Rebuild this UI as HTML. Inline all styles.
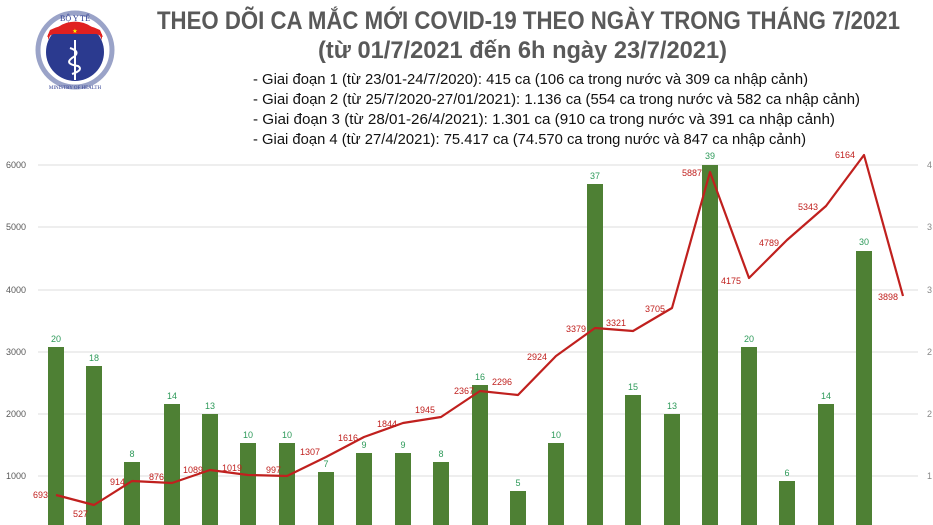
<!DOCTYPE html>
<html><head><meta charset="utf-8"><style>html,body{margin:0;padding:0;background:#fff;}svg{display:block}</style></head>
<body>
<svg width="933" height="525" viewBox="0 0 933 525" xmlns="http://www.w3.org/2000/svg" font-family="Liberation Sans, sans-serif">
<rect width="933" height="525" fill="#fff"/>
<!-- logo -->
<g>
<circle cx="75" cy="50" r="37" fill="none" stroke="#9aa3c8" stroke-width="5"/>
<circle cx="75" cy="52" r="29" fill="#2b3a8f"/>
<path d="M48 40 A29 29 0 0 1 102 40 L102 34 L48 34 Z" fill="#e02020"/>
<path d="M47 37 Q75 22 103 37 L100 30 Q75 18 50 30 Z" fill="#e02020"/>
<text x="75" y="33" font-size="6" fill="#ff0" text-anchor="middle">★</text>
<line x1="75" y1="40" x2="75" y2="80" stroke="#fff" stroke-width="2"/>
<path d="M70 48 Q82 52 72 58 Q64 64 78 66 Q84 70 72 74" stroke="#fff" stroke-width="2" fill="none"/>
<text x="75" y="21" font-size="8" fill="#2b3a8f" text-anchor="middle" font-family="Liberation Serif, serif">BỘ Y TẾ</text>
<text x="75" y="89" font-size="5" fill="#2b3a8f" text-anchor="middle" font-family="Liberation Serif, serif">MINISTRY OF HEALTH</text>
</g>
<!-- titles -->
<text x="157" y="29" font-size="25" font-weight="bold" fill="#595959" textLength="743" lengthAdjust="spacingAndGlyphs">THEO DÕI CA MẮC MỚI COVID-19 THEO NGÀY TRONG THÁNG 7/2021</text>
<text x="318" y="58" font-size="24" font-weight="bold" fill="#595959" textLength="409" lengthAdjust="spacingAndGlyphs">(từ 01/7/2021 đến 6h ngày 23/7/2021)</text>
<g font-size="15" fill="#111">
<text x="253" y="84" textLength="555" lengthAdjust="spacingAndGlyphs">- Giai đoạn 1 (từ 23/01-24/7/2020): 415 ca (106 ca trong nước và 309 ca nhập cảnh)</text>
<text x="253" y="104" textLength="607" lengthAdjust="spacingAndGlyphs">- Giai đoạn 2 (từ 25/7/2020-27/01/2021): 1.136 ca (554 ca trong nước và 582 ca nhập cảnh)</text>
<text x="253" y="124" textLength="582" lengthAdjust="spacingAndGlyphs">- Giai đoạn 3 (từ 28/01-26/4/2021): 1.301 ca (910 ca trong nước và 391 ca nhập cảnh)</text>
<text x="253" y="144" textLength="553" lengthAdjust="spacingAndGlyphs">- Giai đoạn 4 (từ 27/4/2021): 75.417 ca (74.570 ca trong nước và 847 ca nhập cảnh)</text>
</g>
<!-- grid -->
<g stroke="#dcdcdc" stroke-width="1">
<line x1="38" y1="165" x2="918" y2="165"/><line x1="38" y1="227" x2="918" y2="227"/>
<line x1="38" y1="290" x2="918" y2="290"/><line x1="38" y1="352" x2="918" y2="352"/>
<line x1="38" y1="414" x2="918" y2="414"/><line x1="38" y1="476" x2="918" y2="476"/>
</g>
<g font-size="9" fill="#595959">
<text x="6" y="168">6000</text><text x="6" y="230">5000</text><text x="6" y="293">4000</text>
<text x="6" y="355">3000</text><text x="6" y="417">2000</text><text x="6" y="479">1000</text>
</g>
<g font-size="9" fill="#888"><text x="927" y="168">4</text><text x="927" y="230">3</text><text x="927" y="293">3</text><text x="927" y="355">2</text><text x="927" y="417">2</text><text x="927" y="479">1</text></g>
<!-- bars -->
<g fill="#4e8034">
<rect x="48" y="347" width="16" height="178"/><rect x="86" y="366" width="16" height="159"/>
<rect x="124" y="462" width="16" height="63"/><rect x="164" y="404" width="16" height="121"/>
<rect x="202" y="414" width="16" height="111"/><rect x="240" y="443" width="16" height="82"/>
<rect x="279" y="443" width="16" height="82"/><rect x="318" y="472" width="16" height="53"/>
<rect x="356" y="453" width="16" height="72"/><rect x="395" y="453" width="16" height="72"/>
<rect x="433" y="462" width="16" height="63"/><rect x="472" y="385" width="16" height="140"/>
<rect x="510" y="491" width="16" height="34"/><rect x="548" y="443" width="16" height="82"/>
<rect x="587" y="184" width="16" height="341"/><rect x="625" y="395" width="16" height="130"/>
<rect x="664" y="414" width="16" height="111"/><rect x="702" y="165" width="16" height="360"/>
<rect x="741" y="347" width="16" height="178"/><rect x="779" y="481" width="16" height="44"/>
<rect x="818" y="404" width="16" height="121"/><rect x="856" y="251" width="16" height="274"/>
</g>
<g font-size="9" fill="#2e9a5a" text-anchor="middle">
<text x="56" y="342">20</text><text x="94" y="361">18</text><text x="132" y="457">8</text><text x="172" y="399">14</text>
<text x="210" y="409">13</text><text x="248" y="438">10</text><text x="287" y="438">10</text><text x="326" y="467">7</text>
<text x="364" y="448">9</text><text x="403" y="448">9</text><text x="441" y="457">8</text><text x="480" y="380">16</text>
<text x="518" y="486">5</text><text x="556" y="438">10</text><text x="595" y="179">37</text><text x="633" y="390">15</text>
<text x="672" y="409">13</text><text x="710" y="159">39</text><text x="749" y="342">20</text><text x="787" y="476">6</text>
<text x="826" y="399">14</text><text x="864" y="245">30</text>
</g>
<!-- line -->
<polyline fill="none" stroke="#c0201e" stroke-width="2.2" stroke-linejoin="round" points="56,495 94,505 132,481 172,483 210,470 248,475 287,476 326,457 364,437 403,423 441,417 480,391 518,395 556,356 595,328 633,331 672,308 710,172 749,278 787,240 826,206 864,155 903,296"/>
<g font-size="9" fill="#c0201e" text-anchor="end">
<text x="48" y="498">693</text><text x="88" y="517">527</text><text x="125" y="485">914</text><text x="164" y="480">876</text>
<text x="203" y="473">1089</text><text x="242" y="471">1019</text><text x="281" y="473">997</text><text x="320" y="455">1307</text>
<text x="358" y="441">1616</text><text x="397" y="427">1844</text><text x="435" y="413">1945</text><text x="474" y="394">2367</text>
<text x="512" y="385">2296</text><text x="547" y="360">2924</text><text x="586" y="332">3379</text><text x="626" y="326">3321</text>
<text x="665" y="312">3705</text><text x="702" y="176">5887</text><text x="741" y="284">4175</text><text x="779" y="246">4789</text>
<text x="818" y="210">5343</text><text x="855" y="158">6164</text><text x="898" y="300">3898</text>
</g>
</svg>
</body></html>
